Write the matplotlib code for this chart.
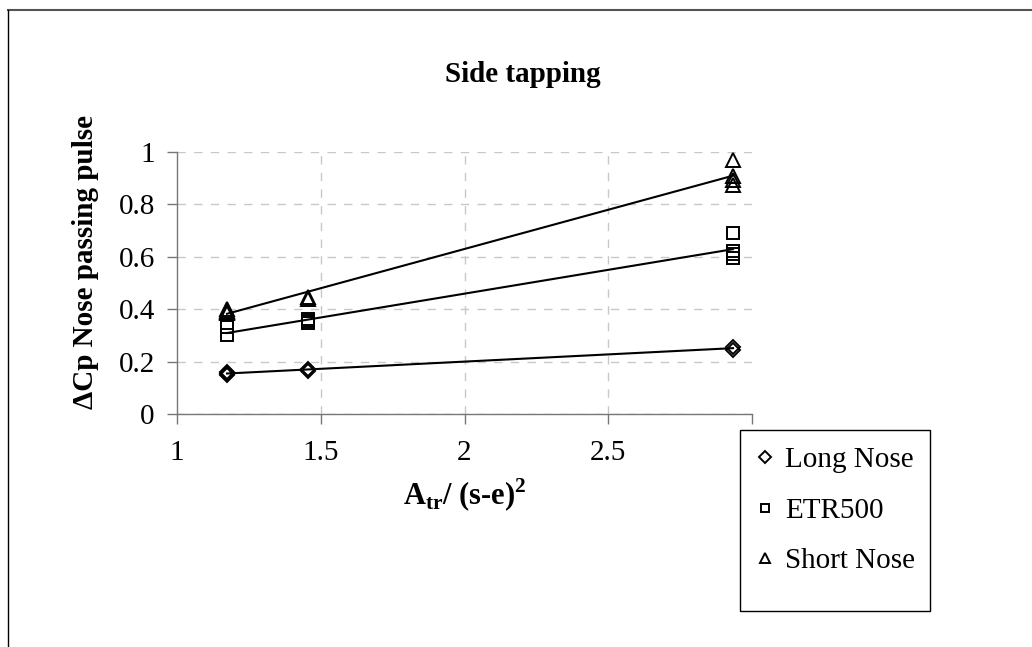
import matplotlib
matplotlib.use("Agg")
import matplotlib.pyplot as plt
from matplotlib.lines import Line2D
from matplotlib.patches import Rectangle
import numpy as np

# values (overlapping repeats kept)
long_x = [1.174, 1.174, 1.174, 1.174, 1.456, 1.456, 2.934, 2.934]
long_y = [0.150, 0.153, 0.157, 0.160, 0.166, 0.172, 0.257, 0.246]

etr_x = [1.174, 1.174, 1.456, 1.456, 1.456, 2.934, 2.934, 2.934, 2.934]
etr_y = [0.332, 0.300, 0.363, 0.355, 0.347, 0.690, 0.622, 0.610, 0.597]

short_x = [1.174, 1.174, 1.174, 1.174, 1.456, 1.456,
           2.934, 2.934, 2.934, 2.934]
short_y = [0.385, 0.390, 0.395, 0.400, 0.440, 0.446,
           0.970, 0.908, 0.893, 0.875]

x_ticks = [1, 1.5, 2, 2.5, 3]
x_ticklabels = ["1", "1.5", "2", "2.5", ""]
y_ticks = [0, 0.2, 0.4, 0.6, 0.8, 1]
y_ticklabels = ["0", "0.2", "0.4", "0.6", "0.8", "1"]

series = [
    ("Long Nose", long_x, long_y, "D", 7.5),
    ("ETR500", etr_x, etr_y, "s", 8),
    ("Short Nose", short_x, short_y, "^", 10),
]

plt.rcParams["font.family"] = ["Liberation Serif", "DejaVu Serif"]
plt.rcParams["mathtext.fontset"] = "custom"
plt.rcParams["mathtext.rm"] = "Liberation Serif"
plt.rcParams["mathtext.bf"] = "Liberation Serif:bold"

W, H = 1032, 647
fig = plt.figure(figsize=(W / 100, H / 100), dpi=100)
L, R, T, B = 177, 752, 152, 414
ax = fig.add_axes([L / W, 1 - B / H, (R - L) / W, (B - T) / H])

handles = []
for name, xs, ys, mk, ms in series:
    xs = np.array(xs)
    ys = np.array(ys)
    k, b = np.polyfit(xs, ys, 1)
    xl = np.array([xs.min(), xs.max()])
    ax.plot(xl, k * xl + b, color="black", lw=1.5, zorder=3)
    ax.plot(xs, ys, linestyle="none", marker=mk, markersize=ms,
            markerfacecolor="none", markeredgecolor="black",
            markeredgewidth=1.4, zorder=4)
    handles.append(Line2D([], [], linestyle="none", marker=mk, markersize=ms,
                          markerfacecolor="none", markeredgecolor="black",
                          markeredgewidth=1.4, label=name))

ax.set_xlim(1, 3)
ax.set_ylim(0, 1)
ax.set_xticks(x_ticks)
ax.set_xticklabels(x_ticklabels)
ax.set_yticks(y_ticks)
ax.set_yticklabels(y_ticklabels)
ax.tick_params(labelsize=21, length=7, width=1, color="#777777")
ax.tick_params(axis="x", pad=12)
ax.tick_params(axis="y", pad=9)

for s in ["top", "right"]:
    ax.spines[s].set_visible(False)
for s in ["left", "bottom"]:
    ax.spines[s].set_color("#777777")
    ax.spines[s].set_linewidth(1)

ax.set_axisbelow(True)
ax.yaxis.grid(True, color="#c8c8c8", linestyle=(0, (6, 6)), lw=1)
for xv in [1.5, 2, 2.5]:
    ax.axvline(xv, color="#c8c8c8", linestyle=(0, (6, 6)), lw=1, zorder=0)

fig.text(523 / W, 1 - 74 / H, "Side tapping", ha="center", va="center",
         fontsize=21, fontweight="bold")
fig.text(86 / W, 1 - 262 / H, "\u0394Cp Nose passing pulse", ha="center",
         va="center", rotation=90, fontsize=21, fontweight="bold")
fig.text(465 / W, 1 - 495 / H,
         r"$\mathbf{A_{tr}}$/ (s-e)$^{\mathbf{2}}$", ha="center", va="center",
         fontsize=22, fontweight="bold")

# legend: frame drawn separately, entries placed inside it
fig.add_artist(Rectangle((740 / W, 1 - 611 / H), 190 / W, 181 / H,
                         transform=fig.transFigure, facecolor="white",
                         edgecolor="black", lw=1, zorder=5))
leg = fig.legend(handles=handles, loc="upper left",
                 bbox_to_anchor=(756 / W, 1 - 447 / H),
                 bbox_transform=fig.transFigure, borderaxespad=0,
                 fontsize=21, frameon=False,
                 markerscale=0.75, handlelength=0.6, handletextpad=0.4,
                 borderpad=0, labelspacing=0.82)
leg.set_zorder(6)

# outer chart border (top and left edges)
fig.add_artist(Line2D([8 / W, 1], [1 - 10 / H, 1 - 10 / H],
                      transform=fig.transFigure, color="#555555", lw=1.5))
fig.add_artist(Line2D([8 / W, 8 / W], [0, 1 - 10 / H],
                      transform=fig.transFigure, color="black", lw=1))

fig.savefig("out.png", dpi=100)
